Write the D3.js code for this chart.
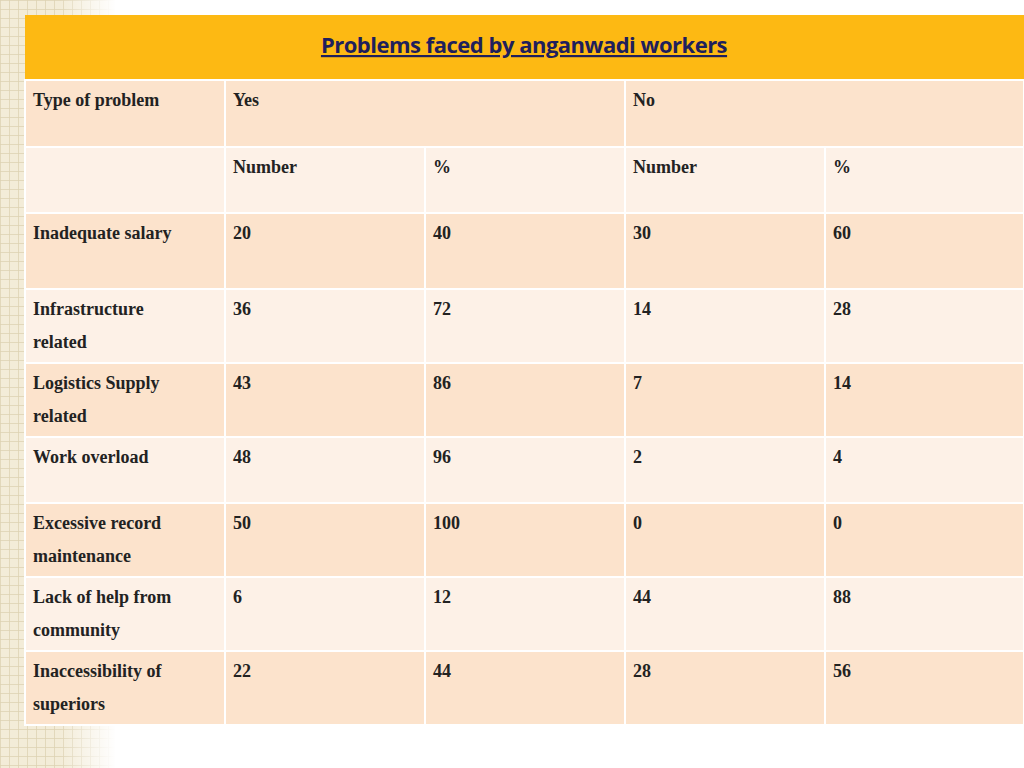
<!DOCTYPE html><html><head><meta charset="utf-8">
<script src="https://cdn.jsdelivr.net/npm/d3@7"></script>
<style>body{margin:0;background:#fff}</style></head><body>
<script>
const title = "Problems faced by anganwadi workers";
const headerTop = ["Type of problem","Yes","No"];
const headerSub = ["","Number","%","Number","%"];
const problems = [["Inadequate salary"],["Infrastructure","related"],["Logistics Supply","related"],["Work overload"],["Excessive record","maintenance"],["Lack of help from","community"],["Inaccessibility of","superiors"]];
const yesNum = [20,36,43,48,50,6,22];
const yesPct = [40,72,86,96,100,12,44];
const noNum = [30,14,7,2,0,44,28];
const noPct = [60,28,14,4,0,88,56];

const svg = d3.select("body").append("svg").attr("width",1024).attr("height",768);
const defs = svg.append("defs");
const pat = defs.append("pattern").attr("id","grid").attr("width",9).attr("height",9).attr("patternUnits","userSpaceOnUse");
pat.append("rect").attr("width",9).attr("height",9).attr("fill","#f3ecd8");
pat.append("path").attr("d","M0 0H9M0 0V9").attr("stroke","#ddd2b2").attr("stroke-width",1.5);
const grad = defs.append("linearGradient").attr("id","fade");
grad.append("stop").attr("offset","0").attr("stop-color","#fff").attr("stop-opacity",0);
grad.append("stop").attr("offset","1").attr("stop-color","#fff").attr("stop-opacity",1);
svg.append("rect").attr("x",0).attr("y",0).attr("width",115).attr("height",768).attr("fill","url(#grid)");
svg.append("rect").attr("x",60).attr("y",0).attr("width",56).attr("height",768).attr("fill","url(#fade)");

const colEdges = [25,225,425,625,825,1024];
const rowEdges = [80,147,213,289,363,437,503,577,651,725];
const x = i => colEdges[i], y = i => rowEdges[i];
const dark = "#fce3cc", light = "#fdf1e7";
const font = "'Liberation Serif', serif";

svg.append("rect").attr("x",25).attr("y",15).attr("width",999).attr("height",65).attr("fill","#fdb913");
svg.append("text").attr("x",524).attr("y",53).attr("text-anchor","middle").attr("font-family","'Open Sans', sans-serif")
 .attr("font-weight","bold").attr("font-size",22).attr("text-decoration","underline").attr("fill","#1f1f5c").attr("letter-spacing",-0.5).text(title);

const rows = [];
rows.push([[headerTop[0]],[headerTop[1]],null,[headerTop[2]],null]);
rows.push(headerSub.map(s=>[s]));
problems.forEach((p,i)=>rows.push([p,[String(yesNum[i])],[String(yesPct[i])],[String(noNum[i])],[String(noPct[i])]]));

rows.forEach((r,ri)=>{
  const fill = ri%2===0?dark:light;
  const g = svg.append("g");
  if(ri===0){
    [[0,1],[1,3],[3,5]].forEach(([a,b],k)=>{
      g.append("rect").attr("x",x(a)).attr("y",y(0)).attr("width",x(b)-x(a)).attr("height",y(1)-y(0)).attr("fill",fill).attr("stroke","#fff").attr("stroke-width",2);
      g.append("text").attr("x",x(a)+8).attr("y",y(0)+26).attr("font-family",font).attr("font-weight","bold").attr("font-size",18).attr("fill","#222").text(headerTop[k]);
    });
    return;
  }
  r.forEach((c,ci)=>{
    g.append("rect").attr("x",x(ci)).attr("y",y(ri)).attr("width",x(ci+1)-x(ci)).attr("height",y(ri+1)-y(ri)).attr("fill",fill).attr("stroke","#fff").attr("stroke-width",2);
    c.forEach((line,li)=>g.append("text").attr("x",x(ci)+8).attr("y",y(ri)+26+li*33).attr("font-family",font).attr("font-weight","bold").attr("font-size",18).attr("fill","#222").text(line));
  });
});
</script></body></html>
